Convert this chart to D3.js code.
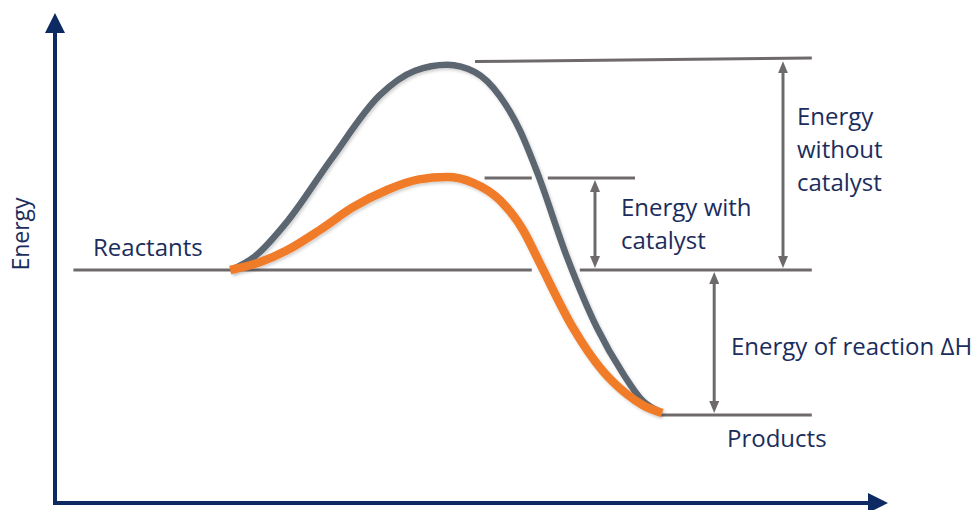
<!DOCTYPE html>
<html>
<head>
<meta charset="utf-8">
<script src="https://cdn.jsdelivr.net/npm/d3@7"></script>
<style>
  body { margin: 0; background: #fff; }
  text { font-family: "Open Sans", sans-serif; fill: #1b2d5c; }
</style>
</head>
<body>
<div id="chart"></div>
<script>
// reaction progress (0-100) vs energy (0-100)
var uncatalysed = [[22, 50], [25, 53], [29, 60.5], [34.5, 74], [40.6, 88], [45, 93.3], [49, 94.6], [52.5, 93],
  [55.6, 87.8], [58.1, 80.4], [60.3, 71.1], [64, 52.8], [67.7, 37.6], [71, 27.5], [73.5, 21.5], [75.6, 19.2]];
var catalysed = [[21.9, 50], [25.6, 51.7], [29, 54.3], [33.1, 58.7], [37.2, 63.6], [41.5, 67.4], [45.5, 69.7], [49, 70.2],
  [52.2, 69], [55.6, 65.2], [58.5, 58.7], [60.6, 51.5], [64.7, 37.6], [68.5, 28], [71.5, 23], [73.5, 20.6], [75.9, 18.9]];

var reactantE = 50, productE = 18.5, peakCat = 70, peakNoCat = 95.3;

// level lines: [x1, x2, energy at x1, energy at x2]
var levels = [
  [2.3, 59.6, reactantE, reactantE], [65.6, 94.6, reactantE, reactantE],
  [53.7, 59.6, peakCat, peakCat], [61.6, 72.5, peakCat, peakCat],
  [52.5, 94.6, peakNoCat, 96.1],
  [75.6, 94.6, productE, productE]
];
// double arrows: [x, from energy, to energy]
var gaps = [[91, 95.8, reactantE], [67.5, peakCat, reactantE], [82.4, reactantE, productE]];

var axisLabel = "Energy";
var gapLabels = [["Energy", "without", "catalyst"], ["Energy with", "catalyst"], ["Energy of reaction ΔH"]];

var width = 978, height = 510;
var x = d3.scaleLinear().domain([0, 100]).range([55, 855]);
var y = d3.scaleLinear().domain([0, 100]).range([500, 40]);

var svg = d3.select("#chart").append("svg")
  .attr("width", width).attr("height", height);

var defs = svg.append("defs");
defs.append("marker")
  .attr("id", "head")
  .attr("viewBox", "0 0 12 10")
  .attr("refX", 4).attr("refY", 5)
  .attr("markerWidth", 12).attr("markerHeight", 10)
  .attr("markerUnits", "userSpaceOnUse")
  .attr("orient", "auto-start-reverse")
  .append("path").attr("d", "M0,0 L12,5 L0,10 Z").attr("fill", "#6e6a6c");

var shadow = defs.append("filter").attr("id", "shadow")
  .attr("x", "-10%").attr("y", "-10%").attr("width", "120%").attr("height", "120%");
shadow.append("feDropShadow").attr("dx", 1.5).attr("dy", 2).attr("stdDeviation", 1.5)
  .attr("flood-color", "#000").attr("flood-opacity", 0.18);

// axes
var navy = "#0d2a63";
svg.append("line").attr("x1", 55).attr("x2", 55).attr("y1", 505).attr("y2", 30)
  .attr("stroke", navy).attr("stroke-width", 4);
svg.append("path").attr("d", "M45,33 L55,13 L65,33 Z").attr("fill", navy);
svg.append("line").attr("x1", 53).attr("x2", 870).attr("y1", 503).attr("y2", 503)
  .attr("stroke", navy).attr("stroke-width", 4);
svg.append("path").attr("d", "M868,493 L888,503 L868,513 Z").attr("fill", navy);

svg.append("text")
  .attr("transform", "translate(29,234) rotate(-90)")
  .attr("text-anchor", "middle")
  .attr("font-size", 23)
  .text(axisLabel);

// level lines
svg.selectAll(".level")
  .data(levels)
  .enter().append("line")
  .attr("class", "level")
  .attr("x1", function(d){ return x(d[0]); })
  .attr("x2", function(d){ return x(d[1]); })
  .attr("y1", function(d){ return y(d[2]); })
  .attr("y2", function(d){ return y(d[3]); })
  .attr("stroke", "#6e6a6c")
  .attr("stroke-width", 3);

// gap arrows
svg.selectAll(".gap")
  .data(gaps)
  .enter().append("line")
  .attr("class", "gap")
  .attr("x1", function(d){ return x(d[0]); })
  .attr("x2", function(d){ return x(d[0]); })
  .attr("y1", function(d){ return y(d[1]) + 10; })
  .attr("y2", function(d){ return y(d[2]) - 10; })
  .attr("stroke", "#6e6a6c")
  .attr("stroke-width", 3)
  .attr("marker-start", "url(#head)")
  .attr("marker-end", "url(#head)");

// curves
var line = d3.line()
  .x(function(d){ return x(d[0]); })
  .y(function(d){ return y(d[1]); })
  .curve(d3.curveMonotoneX);

svg.append("path")
  .datum(uncatalysed)
  .attr("d", line)
  .attr("fill", "none")
  .attr("stroke", "#5b6670")
  .attr("stroke-width", 6.5)
  .attr("filter", "url(#shadow)");

svg.append("path")
  .datum(catalysed)
  .attr("d", line)
  .attr("fill", "none")
  .attr("stroke", "#f07b2a")
  .attr("stroke-width", 8.5)
  .attr("filter", "url(#shadow)");

// labels
svg.append("text").attr("x", 93).attr("y", y(reactantE) - 14)
  .attr("font-size", 24).text("Reactants");
svg.append("text").attr("x", 727).attr("y", y(productE) + 32)
  .attr("font-size", 24).text("Products");

var labelPos = [[797, 125], [621, 216], [731, 355]];
gapLabels.forEach(function(lines, i){
  var t = svg.append("text").attr("font-size", 24);
  lines.forEach(function(s, j){
    t.append("tspan").attr("x", labelPos[i][0]).attr("y", labelPos[i][1] + j * 33).text(s);
  });
});
</script>
</body>
</html>
